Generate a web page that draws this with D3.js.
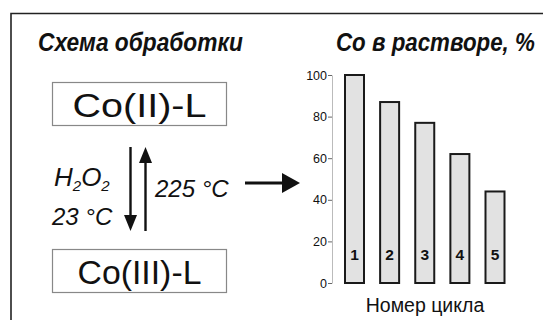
<!DOCTYPE html>
<html>
<head>
<meta charset="utf-8">
<script src="https://cdn.jsdelivr.net/npm/d3@7"></script>
<style>
  html, body { margin: 0; padding: 0; background: #fff; }
  svg { display: block; }
  text { font-family: "Liberation Sans", Arial, sans-serif; fill: #111; }
</style>
</head>
<body>
<svg id="fig" width="543" height="320"></svg>
<script>
// Cobalt remaining in solution after each treatment cycle, %
const cycles = ["1", "2", "3", "4", "5"];
const coInSolution = [100, 87, 77, 62, 44];
const yTicks = [0, 20, 40, 60, 80, 100];

const svg = d3.select("#fig");

// text squeezed horizontally to a given width
function fitText(x, y, str, size, width, opts = {}) {
  const t = svg.append("text").attr("font-size", size)
    .attr("font-weight", opts.bold ? "bold" : null)
    .attr("font-style", opts.italic ? "italic" : null)
    .text(str);
  const natural = t.node().getComputedTextLength();
  t.attr("transform", `translate(${x},${y}) scale(${width / natural},1)`);
  return t;
}

// outer frame (top and left edges)
svg.append("path")
  .attr("d", "M11,320 V13.5 H543")
  .attr("fill", "none").attr("stroke", "#222").attr("stroke-width", 1.6);

// ---- left panel: treatment scheme ----
fitText(38, 51, "Схема обработки", 25, 205, { bold: true, italic: true });

function complexBox(y, label, width) {
  svg.append("rect").attr("x", 52.5).attr("y", y).attr("width", 174).attr("height", 43)
    .attr("fill", "#fff").attr("stroke", "#888").attr("stroke-width", 1.2);
  fitText(139.5 - width / 2, y + 34, label, 33, width);
}
complexBox(82.5, "Co(II)-L", 134);
complexBox(249.5, "Co(III)-L", 124);

// reaction arrows
svg.append("line").attr("x1", 130.5).attr("x2", 130.5).attr("y1", 147).attr("y2", 218)
  .attr("stroke", "#111").attr("stroke-width", 2.4);
svg.append("path").attr("d", "M124,215 L137,215 L130.5,231 Z").attr("fill", "#111");
svg.append("line").attr("x1", 145.5).attr("x2", 145.5).attr("y1", 160).attr("y2", 231)
  .attr("stroke", "#111").attr("stroke-width", 2.4);
svg.append("path").attr("d", "M139,163 L152,163 L145.5,147 Z").attr("fill", "#111");

// conditions
const h2o2 = svg.append("text").attr("x", 54).attr("y", 186)
  .attr("font-size", 26).attr("font-style", "italic");
h2o2.append("tspan").text("H");
h2o2.append("tspan").attr("font-size", 15).attr("dy", 5).text("2");
h2o2.append("tspan").attr("dy", -5).text("O");
h2o2.append("tspan").attr("font-size", 15).attr("dy", 5).text("2");

svg.append("text").attr("x", 52).attr("y", 225)
  .attr("font-size", 24).attr("font-style", "italic").text("23 °C");
svg.append("text").attr("x", 155).attr("y", 197)
  .attr("font-size", 24).attr("font-style", "italic").text("225 °C");

// arrow toward the chart
svg.append("line").attr("x1", 245).attr("x2", 284).attr("y1", 183).attr("y2", 183)
  .attr("stroke", "#111").attr("stroke-width", 3);
svg.append("path").attr("d", "M282,173 L300,183 L282,193 Z").attr("fill", "#111");

// ---- right panel: bar chart ----
fitText(336, 51, "Со в растворе, %", 25, 199, { bold: true, italic: true });

const y = d3.scaleLinear().domain([0, 100]).range([283, 75]);
const x = d3.scalePoint().domain(cycles).range([354.5, 495]);
const barW = 19;

const yAxis = svg.append("g").attr("transform", "translate(332,0)")
  .call(d3.axisLeft(y).tickValues(yTicks).tickSize(4).tickPadding(1).tickSizeOuter(0));
yAxis.select(".domain").attr("stroke", "#bbb").attr("stroke-width", 1);
yAxis.selectAll(".tick line").attr("stroke", "#666");
yAxis.selectAll(".tick text")
  .attr("font-family", "Liberation Sans, Arial, sans-serif")
  .attr("font-size", 12.5).attr("fill", "#222");

svg.append("g").selectAll("rect").data(coInSolution).join("rect")
  .attr("x", (d, i) => x(cycles[i]) - barW / 2)
  .attr("y", d => y(d))
  .attr("width", barW)
  .attr("height", d => y(0) - y(d))
  .attr("fill", "#e2e2e2").attr("stroke", "#1a1a1a").attr("stroke-width", 2);

svg.append("g").selectAll("text").data(cycles).join("text")
  .attr("x", d => x(d)).attr("y", y(11))
  .attr("text-anchor", "middle")
  .attr("font-size", 15.5).attr("font-weight", "bold")
  .text(d => d);

svg.append("text").attr("x", 425).attr("y", 312)
  .attr("text-anchor", "middle").attr("font-size", 19.5)
  .text("Номер цикла");
</script>
</body>
</html>
